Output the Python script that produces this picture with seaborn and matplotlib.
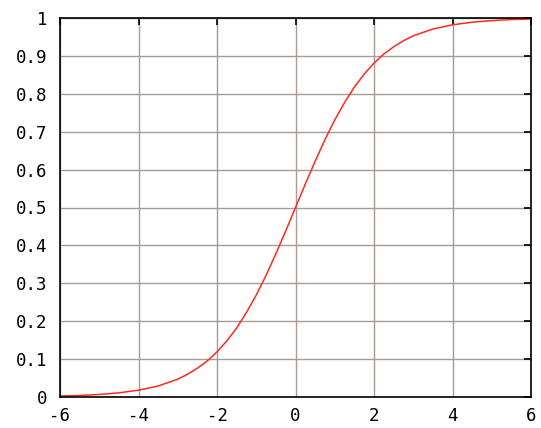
"""
Logistic (sigmoid) curve in a gnuplot-like style.
"""

import matplotlib
matplotlib.use("Agg")
import matplotlib.pyplot as plt
import seaborn as sns
import pandas as pd

# values
x_vals = [-6, -5.5, -5, -4.5, -4, -3.5, -3, -2.75, -2.5, -2.25, -2, -1.75,
          -1.5, -1.25, -1, -0.75, -0.5, -0.25, 0, 0.25, 0.5, 0.75, 1, 1.25,
          1.5, 1.75, 2, 2.25, 2.5, 2.75, 3, 3.5, 4, 4.5, 5, 5.5, 6]
y_vals = [0.0025, 0.004, 0.0067, 0.011, 0.018, 0.029, 0.047, 0.060, 0.076,
          0.095, 0.119, 0.148, 0.182, 0.223, 0.269, 0.321, 0.378, 0.438, 0.5,
          0.562, 0.622, 0.679, 0.731, 0.777, 0.818, 0.852, 0.881, 0.905,
          0.924, 0.940, 0.953, 0.971, 0.982, 0.989, 0.993, 0.996, 0.9975]

x_ticks = [-6, -4, -2, 0, 2, 4, 6]
y_ticks = [0, 0.1, 0.2, 0.3, 0.4, 0.5, 0.6, 0.7, 0.8, 0.9, 1]
y_labels = ["0", "0.1", "0.2", "0.3", "0.4", "0.5", "0.6", "0.7", "0.8", "0.9", "1"]

data = pd.DataFrame({"x": x_vals, "y": y_vals})

sns.set_style("white")
plt.rcParams['font.family'] = ['DejaVu Sans Mono', 'Liberation Mono']

fig = plt.figure(figsize=(5.41, 4.28), dpi=100)
ax = fig.add_axes([60 / 541, 31 / 428, 471 / 541, 379 / 428])

sns.lineplot(data=data, x="x", y="y", color="#ff2a1a", linewidth=1.1, ax=ax)

ax.set_xlim(-6, 6)
ax.set_ylim(0, 1)
ax.set_xticks(x_ticks)
ax.set_xticklabels([str(t) for t in x_ticks])
ax.set_yticks(y_ticks)
ax.set_yticklabels(y_labels)
ax.set_xlabel("")
ax.set_ylabel("")

ax.grid(True, color="#a89a94", linewidth=1.0)
ax.set_axisbelow(True)
for side in ax.spines.values():
    side.set_color("black")
    side.set_linewidth(1.2)

ax.tick_params(direction="in", length=5, width=1.2, colors="black",
               labelsize=12.5, top=True, right=True, pad=7)
ax.tick_params(axis="y", pad=9)

plt.savefig("out.png", dpi=100)
plt.close()
